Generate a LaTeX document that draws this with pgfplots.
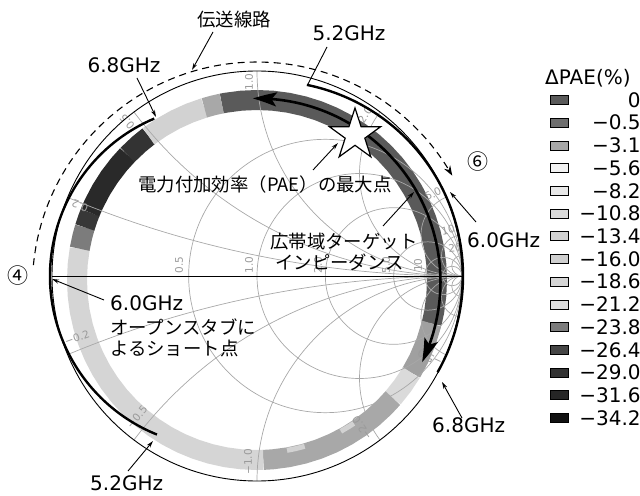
\documentclass[border=0pt]{standalone}
\usepackage{pgfplots}
\pgfplotsset{compat=1.18}
\usepackage{fontspec}
\setmainfont{DejaVu Sans}
\newfontfamily\jp{Noto Sans CJK JP}
\usetikzlibrary{arrows.meta,bending}
\newcommand{\JP}{\jp\fontsize{18.4bp}{22bp}\selectfont}
\newcommand{\LT}{\fontsize{20bp}{24bp}\selectfont}
\newcommand{\SM}{\fontsize{10.5bp}{12bp}\selectfont}
% legend colours
\definecolor{l00}{HTML}{5A5A5A}
\definecolor{l01}{HTML}{6E6E6E}
\definecolor{l02}{HTML}{A8A8A8}
\definecolor{l03}{HTML}{F2F2F2}
\definecolor{l04}{HTML}{E8E8E8}
\definecolor{l05}{HTML}{DADADA}
\definecolor{l06}{HTML}{D2D2D2}
\definecolor{l07}{HTML}{CFCFCF}
\definecolor{l08}{HTML}{D5D5D5}
\definecolor{l09}{HTML}{DDDDDD}
\definecolor{l10}{HTML}{7C7C7C}
\definecolor{l11}{HTML}{454545}
\definecolor{l12}{HTML}{333333}
\definecolor{l13}{HTML}{262626}
\definecolor{l14}{HTML}{111111}
\definecolor{gridc}{HTML}{A8A8A8}
\definecolor{labc}{HTML}{9A9A9A}
\pgfplotsset{ringseg/.style={forget plot, no markers, line width=20bp, line cap=butt, line join=round, data cs=polar, yshift=-4bp}}
\pgfdeclareplotmark{bigstar}{%
  \pgfpathmoveto{\pgfqpointpolar{90}{\pgfplotmarksize}}%
  \pgfpathlineto{\pgfqpointpolar{126}{0.382\pgfplotmarksize}}%
  \pgfpathlineto{\pgfqpointpolar{162}{\pgfplotmarksize}}%
  \pgfpathlineto{\pgfqpointpolar{198}{0.382\pgfplotmarksize}}%
  \pgfpathlineto{\pgfqpointpolar{234}{\pgfplotmarksize}}%
  \pgfpathlineto{\pgfqpointpolar{270}{0.382\pgfplotmarksize}}%
  \pgfpathlineto{\pgfqpointpolar{306}{\pgfplotmarksize}}%
  \pgfpathlineto{\pgfqpointpolar{342}{0.382\pgfplotmarksize}}%
  \pgfpathlineto{\pgfqpointpolar{18}{\pgfplotmarksize}}%
  \pgfpathlineto{\pgfqpointpolar{54}{0.382\pgfplotmarksize}}%
  \pgfpathclose
  \pgfusepathqfillstroke}
\begin{document}
\begin{tikzpicture}
\begin{axis}[
  scale only axis, width=640bp, height=495bp,
  xmin=-257, xmax=383, ymin=-219, ymax=276,
  axis lines=none, clip=false,
  legend style={at={(axis cs:293,183.3)}, anchor=north west, draw=none, fill=none,
    inner sep=0pt, outer sep=0pt, row sep=8.1bp, column sep=9bp,
    cells={anchor=east}, nodes={inner sep=0pt, outer sep=0pt, text height=14.6bp, text depth=0bp},
    font=\LT},
  legend image code/.code={\draw[#1] (0bp,-4.5bp) rectangle (18bp,4.5bp);},
]
% ---------------- ring of Delta PAE (angle, radius) ----------------
\addplot[ringseg, color=l00] coordinates {(-14,180)(-10,180)(-5,180)(0,180)(5,180)(10,180)(15,180)(20,180)(25,180)(30,180)(35,180)(40,180)(45,180)(50,180)(55,180)(60,180)(65,180)(70,180)(75,180)(80,180)(85,180)(90,180)(95,180)(100,180)(101.3,180)};
\addplot[ringseg, color=l02!95!black] coordinates {(-31,180)(-26,180)(-20,180)(-14,180)};
\addplot[ringseg, color=l05] coordinates {(-41,180)(-36,180)(-31,180)};
\addplot[ringseg, color=l02] coordinates {(-88,180)(-85,180)(-80,180)(-75,180)(-70,180)(-65,180)(-60,180)(-55,180)(-50,180)(-45,180)(-41,180)};
\addplot[ringseg, line width=5bp, color=l06] coordinates {(-80,173)(-77,173)(-74,173)};
\addplot[ringseg, line width=5bp, color=l06] coordinates {(-61,173)(-58,173)(-56,173)};
\addplot[ringseg, color=l08] coordinates {(170,180)(175,180)(180,180)(185,180)(190,180)(195,180)(200,180)(205,180)(210,180)(215,180)(220,180)(225,180)(230,180)(235,180)(240,180)(245,180)(250,180)(255,180)(260,180)(265,180)(270,180)(272,180)};
\addplot[ringseg, color=l10] coordinates {(163,180)(166,180)(170,180)};
\addplot[ringseg, color=l11!80!black] coordinates {(158,180)(160,180)(163,180)};
\addplot[ringseg, color=l14!90!white] coordinates {(136,180)(140,180)(145,180)(150,180)(155,180)(158,180)};
\addplot[ringseg, color=l12] coordinates {(127,180)(131,180)(136,180)};
\addplot[ringseg, color=l06] coordinates {(107,180)(112,180)(117,180)(122,180)(127,180)};
\addplot[ringseg, color=l02] coordinates {(101.3,180)(104,180)(107,180)};
% ---------------- Smith chart grid ----------------
\begin{scope}
\clip (axis cs:0,0) circle[radius=205bp];
\draw[gridc, line width=0.7bp] (axis cs:68.33,0) circle[radius=136.67bp];
\draw[gridc, line width=0.7bp] (axis cs:102.5,0) circle[radius=102.5bp];
\draw[gridc, line width=0.7bp] (axis cs:136.67,0) circle[radius=68.33bp];
\draw[gridc, line width=0.7bp] (axis cs:170.83,0) circle[radius=34.17bp];
\draw[gridc, line width=0.7bp] (axis cs:186.36,0) circle[radius=18.64bp];
\draw[gridc, line width=0.7bp] (axis cs:195.24,0) circle[radius=9.76bp];
\draw[gridc, line width=0.7bp] (axis cs:205,1025) circle[radius=1025bp];
\draw[gridc, line width=0.7bp] (axis cs:205,-1025) circle[radius=1025bp];
\draw[gridc, line width=0.7bp] (axis cs:205,410) circle[radius=410bp];
\draw[gridc, line width=0.7bp] (axis cs:205,-410) circle[radius=410bp];
\draw[gridc, line width=0.7bp] (axis cs:205,205) circle[radius=205bp];
\draw[gridc, line width=0.7bp] (axis cs:205,-205) circle[radius=205bp];
\draw[gridc, line width=0.7bp] (axis cs:205,102.5) circle[radius=102.5bp];
\draw[gridc, line width=0.7bp] (axis cs:205,-102.5) circle[radius=102.5bp];
\draw[gridc, line width=0.7bp] (axis cs:205,41) circle[radius=41bp];
\draw[gridc, line width=0.7bp] (axis cs:205,-41) circle[radius=41bp];
\draw[gridc, line width=0.7bp] (axis cs:205,20.5) circle[radius=20.5bp];
\draw[gridc, line width=0.7bp] (axis cs:205,-20.5) circle[radius=20.5bp];
\draw[gridc, line width=0.7bp] (axis cs:205,10.25) circle[radius=10.25bp];
\draw[gridc, line width=0.7bp] (axis cs:205,-10.25) circle[radius=10.25bp];
\end{scope}
% grid labels
\node[labc, font=\SM, rotate=90] at (axis cs:-78,11) {0.5};
\node[labc, font=\SM, rotate=90] at (axis cs:-8,11) {1.0};
\node[labc, font=\SM, rotate=90] at (axis cs:61,11) {2.0};
\node[labc, font=\SM, rotate=90] at (axis cs:129,11) {5.0};
\node[labc, font=\SM, rotate=90] at (axis cs:161,11) {10};
\node[labc, font=\SM, rotate=158] at (axis cs:-177,70) {0.2};
\node[labc, font=\SM, rotate=130] at (axis cs:-130,154) {0.5};
\node[labc, font=\SM, rotate=90] at (axis cs:-8,194) {1.0};
\node[labc, font=\SM, rotate=56] at (axis cs:108,161) {2.0};
\node[labc, font=\SM, rotate=25] at (axis cs:176,82) {5.0};
\node[labc, font=\SM, rotate=12] at (axis cs:191,46) {10};
\node[labc, font=\SM, rotate=6] at (axis cs:198,28) {20};
\node[labc, font=\SM, rotate=20] at (axis cs:-180,-62) {−0.2};
\node[labc, font=\SM, rotate=50] at (axis cs:-120,-141) {−0.5};
\node[labc, font=\SM, rotate=90] at (axis cs:-9,-186) {−1.0};
\node[labc, font=\SM, rotate=125] at (axis cs:105,-152) {−2.0};
\node[labc, font=\SM, rotate=155] at (axis cs:173,-82) {−5.0};
% boundary and real axis
\draw[black, line width=0.9bp] (axis cs:0,0) circle[radius=205bp];
\draw[black, line width=0.9bp] (axis cs:-205,0) -- (axis cs:205,0);
% ---------------- loci and arrows ----------------
\draw[black, line width=2.4bp] (axis cs:-102.8,157.4) arc[start angle=113, end angle=248, radius=171bp];
\draw[black, line width=2.4bp] (axis cs:49.9,191.1) arc[start angle=78.5, end angle=-29.6, radius=195bp];
\draw[black, line width=2.6bp, {Stealth[length=24bp, width=14bp, inset=5bp, bend]}-{Stealth[length=24bp, width=14bp, inset=5bp, bend]}] (axis cs:-4.2,177.5) arc[start angle=91.3, end angle=-25.9, radius=183.5bp];
\draw[black, line width=1.1bp, dash pattern=on 7bp off 5bp, -{Stealth[length=10bp, width=7bp, bend]}] (axis cs:-223.6,10.9) arc[start angle=174.5, end angle=29.6, radius=224.6bp];
% star: maximum PAE point
\addplot[forget plot, only marks, mark=bigstar, mark size=27bp, mark options={fill=white, draw=black, line width=1.2bp}] coordinates {(98,141)};
% ---------------- leader lines ----------------
\draw[black, line width=0.9bp, -{Stealth[length=7bp, width=4bp]}] (axis cs:-44,244) -- (axis cs:-65,206);
\draw[black, line width=0.9bp] (axis cs:70,229) -- (axis cs:51,192);
\draw[black, line width=0.9bp, -{Stealth[length=7bp, width=4bp]}] (axis cs:-120,198) -- (axis cs:-101,159);
\draw[black, line width=0.9bp, -{Stealth[length=7bp, width=4bp]}] (axis cs:56,106) -- (axis cs:81,133);
\draw[black, line width=0.9bp, -{Stealth[length=7bp, width=4bp]}] (axis cs:126,50) -- (axis cs:157,84);
\draw[black, line width=0.9bp, -{Stealth[length=7bp, width=4bp]}] (axis cs:219,54) -- (axis cs:193,84);
\draw[black, line width=0.9bp, -{Stealth[length=7bp, width=4bp]}] (axis cs:-153,-24) -- (axis cs:-205,-3);
\draw[black, line width=0.9bp, -{Stealth[length=7bp, width=4bp]}] (axis cs:205,-142) -- (axis cs:185,-106);
\draw[black, line width=0.9bp, -{Stealth[length=7bp, width=4bp]}] (axis cs:-129,-195) -- (axis cs:-104,-165);
% ---------------- texts ----------------
\node[font=\JP] at (axis cs:-23,256) {伝送線路};
\node[font=\LT] at (axis cs:92,243) {5.2GHz};
\node[font=\LT] at (axis cs:-133,211) {6.8GHz};
\node[font=\jp\fontsize{21bp}{24bp}\selectfont, inner sep=0pt] at (axis cs:221,114) {⑥};
\node[font=\jp\fontsize{21bp}{24bp}\selectfont, inner sep=0pt] at (axis cs:-239,0) {④};
\node[font=\JP] at (axis cs:8,91) {電力付加効率（PAE）の最大点};
\node[font=\JP, anchor=west, inner sep=0pt] at (axis cs:13,34) {広帯域ターゲット};
\node[font=\JP, anchor=west, inner sep=0pt] at (axis cs:18,14) {インピーダンス};
\node[font=\LT, anchor=west, inner sep=0pt] at (axis cs:210,36) {6.0GHz};
\node[font=\LT, anchor=west, inner sep=0pt] at (axis cs:-147,-27) {6.0GHz};
\node[font=\JP, anchor=west, inner sep=0pt] at (axis cs:-147,-51) {オープンスタブに};
\node[font=\JP, anchor=west, inner sep=0pt] at (axis cs:-147,-72) {よるショート点};
\node[font=\LT, anchor=west, inner sep=0pt] at (axis cs:175,-149) {6.8GHz};
\node[font=\LT, anchor=west, inner sep=0pt] at (axis cs:-167,-207) {5.2GHz};
\node[font=\LT, anchor=west, inner sep=0pt] at (axis cs:288,198) {ΔPAE(\%)};
% ---------------- legend ----------------
\addlegendimage{fill=l00, draw=black, line width=0.6bp}\addlegendentry{\makebox[63bp][r]{0}}
\addlegendimage{fill=l01, draw=black, line width=0.6bp}\addlegendentry{\makebox[63bp][r]{−0.5}}
\addlegendimage{fill=l02, draw=black, line width=0.6bp}\addlegendentry{\makebox[63bp][r]{−3.1}}
\addlegendimage{fill=l03, draw=black, line width=0.6bp}\addlegendentry{\makebox[63bp][r]{−5.6}}
\addlegendimage{fill=l04, draw=black, line width=0.6bp}\addlegendentry{\makebox[63bp][r]{−8.2}}
\addlegendimage{fill=l05, draw=black, line width=0.6bp}\addlegendentry{\makebox[63bp][r]{−10.8}}
\addlegendimage{fill=l06, draw=black, line width=0.6bp}\addlegendentry{\makebox[63bp][r]{−13.4}}
\addlegendimage{fill=l07, draw=black, line width=0.6bp}\addlegendentry{\makebox[63bp][r]{−16.0}}
\addlegendimage{fill=l08, draw=black, line width=0.6bp}\addlegendentry{\makebox[63bp][r]{−18.6}}
\addlegendimage{fill=l09, draw=black, line width=0.6bp}\addlegendentry{\makebox[63bp][r]{−21.2}}
\addlegendimage{fill=l10, draw=black, line width=0.6bp}\addlegendentry{\makebox[63bp][r]{−23.8}}
\addlegendimage{fill=l11, draw=black, line width=0.6bp}\addlegendentry{\makebox[63bp][r]{−26.4}}
\addlegendimage{fill=l12, draw=black, line width=0.6bp}\addlegendentry{\makebox[63bp][r]{−29.0}}
\addlegendimage{fill=l13, draw=black, line width=0.6bp}\addlegendentry{\makebox[63bp][r]{−31.6}}
\addlegendimage{fill=l14, draw=black, line width=0.6bp}\addlegendentry{\makebox[63bp][r]{−34.2}}
\end{axis}
\pgfresetboundingbox
\path (current axis.south west) rectangle (current axis.north east);
\end{tikzpicture}
\end{document}
